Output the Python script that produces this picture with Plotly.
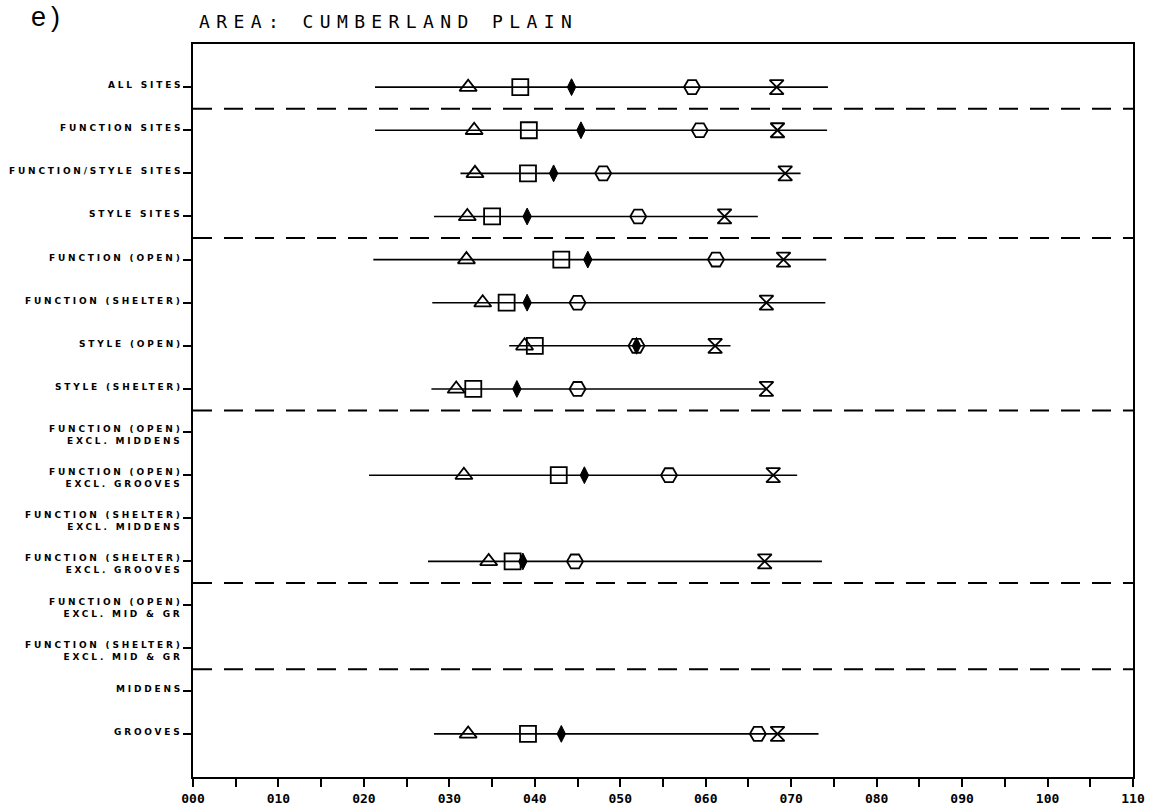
import plotly.graph_objects as go

# ---------------- data ----------------
row_labels = [
    "ALL SITES",
    "FUNCTION SITES",
    "FUNCTION/STYLE SITES",
    "STYLE SITES",
    "FUNCTION (OPEN)",
    "FUNCTION (SHELTER)",
    "STYLE (OPEN)",
    "STYLE (SHELTER)",
    "FUNCTION (OPEN)<br>EXCL. MIDDENS",
    "FUNCTION (OPEN)<br>EXCL. GROOVES",
    "FUNCTION (SHELTER)<br>EXCL. MIDDENS",
    "FUNCTION (SHELTER)<br>EXCL. GROOVES",
    "FUNCTION (OPEN)<br>EXCL. MID & GR",
    "FUNCTION (SHELTER)<br>EXCL. MID & GR",
    "MIDDENS",
    "GROOVES",
]
range_min = [21.3, 21.3, 31.3, 28.2, 21.1, 28.0, 37.0, 27.9, None, 20.6, None, 27.5, None, None, None, 28.2]
range_max = [74.3, 74.2, 71.1, 66.1, 74.1, 74.0, 62.9, 67.1, None, 70.7, None, 73.6, None, None, None, 73.2]
triangle_vals = [32.2, 32.9, 33.0, 32.1, 32.0, 33.9, 38.8, 30.8, None, 31.7, None, 34.6, None, None, None, 32.2]
square_vals = [38.3, 39.3, 39.2, 35.0, 43.1, 36.7, 40.0, 32.8, None, 42.8, None, 37.4, None, None, None, 39.2]
diamond_vals = [44.3, 45.4, 42.2, 39.1, 46.2, 39.1, 51.9, 37.9, None, 45.8, None, 38.6, None, None, None, 43.1]
hexagon_vals = [58.4, 59.3, 48.0, 52.1, 61.2, 45.0, 51.9, 45.0, None, 55.7, None, 44.7, None, None, None, 66.1]
hourglass_vals = [68.3, 68.4, 69.3, 62.2, 69.1, 67.1, 61.1, 67.1, None, 67.9, None, 66.9, None, None, None, 68.4]
group_ends = ["ALL SITES", "STYLE SITES", "STYLE (SHELTER)",
              "FUNCTION (SHELTER)<br>EXCL. GROOVES", "FUNCTION (SHELTER)<br>EXCL. MID & GR"]
x_tick_vals = list(range(0, 111, 5))
x_tick_text = ["%03d" % v if v % 10 == 0 else "" for v in x_tick_vals]
panel_label = "e)"
title_text = "AREA: CUMBERLAND PLAIN"

# ---------------- figure ----------------
W, H = 1158, 812
ML, MR, MT, MB = 193, 25, 44, 35
PW, PH = W - ML - MR, H - MT - MB

ypos = list(range(len(row_labels)))
fig = go.Figure()

# range lines
lx, ly = [], []
for y, a, b in zip(ypos, range_min, range_max):
    if a is None:
        continue
    lx += [a, b, None]
    ly += [y, y, None]
fig.add_trace(go.Scatter(x=lx, y=ly, mode="lines", line=dict(color="black", width=1.6),
                         hoverinfo="skip", showlegend=False))

markers = [
    (triangle_vals, "triangle-up-open", 15, 1.8),
    (square_vals, "square-open", 16, 1.8),
    (diamond_vals, "diamond-tall", 12, 1.0),
    (hexagon_vals, "hexagon2-open", 16, 1.8),
    (hourglass_vals, "hourglass-open", 14, 1.8),
]
for vals, sym, size, lw in markers:
    xs = [v for v in vals if v is not None]
    ys = [y for y, v in zip(ypos, vals) if v is not None]
    fig.add_trace(go.Scatter(x=xs, y=ys, mode="markers",
                             marker=dict(symbol=sym, size=size, color="black",
                                         line=dict(color="black", width=lw)),
                             showlegend=False))

# group separators
for lab in group_ends:
    i = row_labels.index(lab)
    fig.add_shape(type="line", xref="paper", x0=0, x1=1, yref="y", y0=i + 0.5, y1=i + 0.5,
                  line=dict(color="black", width=2, dash="19px,12px"))

# y labels
for y, lab in zip(ypos, row_labels):
    lines = lab.split("<br>")
    txt = "<br>".join('<span style="letter-spacing:2.8px">%s</span>' % s for s in lines)
    fig.add_annotation(x=0, xref="paper", xanchor="right", xshift=-8,
                       y=y, yref="y", yanchor="middle", yshift=(-3 if len(lines) > 1 else 2),
                       text=txt, showarrow=False, align="right",
                       font=dict(family="DejaVu Sans", size=9, color="black", weight="bold"))

# panel label and title
fig.add_annotation(xref="paper", yref="paper", x=(29 - ML) / PW, y=1 + MT / PH,
                   xanchor="left", yanchor="top", yshift=0,
                   text='<span style="letter-spacing:5px">%s</span>' % panel_label, showarrow=False,
                   font=dict(family="Liberation Sans", size=27, color="black"))
fig.add_annotation(xref="paper", yref="paper", x=4 / PW, y=1 + (MT - 21) / PH,
                   xanchor="left", yanchor="middle",
                   text='<span style="letter-spacing:6.4px">%s</span>' % title_text, showarrow=False,
                   font=dict(family="DejaVu Sans Mono", size=18, color="black"))

fig.update_layout(
    template="none",
    width=W, height=H,
    margin=dict(l=ML, r=MR, t=MT, b=MB, autoexpand=False),
    paper_bgcolor="white", plot_bgcolor="white",
    hovermode=False,
    xaxis=dict(range=[0, 110], tickvals=x_tick_vals, ticktext=x_tick_text,
               automargin=False,
               ticks="outside", ticklen=8, tickwidth=1.5, tickcolor="black",
               ticklabelstandoff=0,
               showline=True, mirror=True, linewidth=2, linecolor="black",
               showgrid=False, zeroline=False,
               tickfont=dict(family="DejaVu Sans Mono", size=13, color="black", weight="bold")),
    yaxis=dict(range=[len(row_labels), -1], tickvals=ypos, showticklabels=False,
               automargin=False,
               ticks="outside", ticklen=8, tickwidth=1.5, tickcolor="black",
               showline=True, mirror=True, linewidth=2, linecolor="black",
               showgrid=False, zeroline=False),
)

# remove the default 8px page margin so the figure fills the window exactly
fig.write_html("out.html", config={"displayModeBar": False},
               post_script="document.body.style.margin='0px';")
